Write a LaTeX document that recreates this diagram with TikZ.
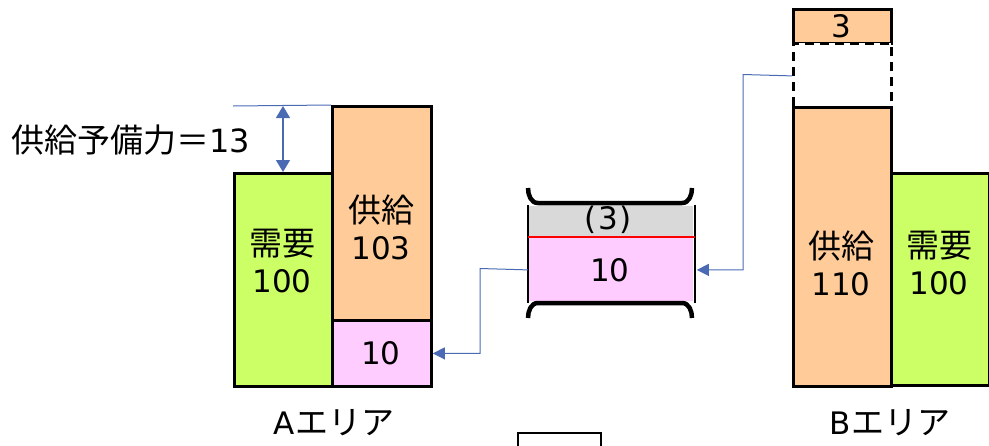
\documentclass[tikz,border=0pt]{standalone}
\usepackage{fontspec}
\setmainfont{Noto Sans CJK JP}
\newfontfamily\latn{DejaVu Sans}
\usetikzlibrary{arrows.meta}
\definecolor{supply}{HTML}{FFCC99}
\definecolor{demand}{HTML}{CCFF66}
\definecolor{flow}{HTML}{FFCCFF}
\definecolor{spare}{HTML}{D9D9D9}
\definecolor{link}{HTML}{4A6BB3}
\begin{document}
\begin{tikzpicture}[x=1pt,y=-1pt,
  box/.style={draw=black,line width=2.8pt,anchor=north west,inner sep=0pt},
  txt/.style={inner sep=0pt,align=center,font=\fontsize{33}{37}\selectfont},
  dig/.style={font=\fontsize{31}{37}\selectfont\latn},
  conn/.style={draw=link,line width=1pt,-{Triangle[length=12pt,width=12pt]}}]
\useasboundingbox (0,0) rectangle (989,445);
% A area
\node[box,fill=demand,minimum width=98pt,minimum height=213pt] (ademand) at (233,172) {};
\node[box,fill=supply,minimum width=99pt,minimum height=214pt] (asupply) at (331,105) {};
\node[box,fill=flow,minimum width=99pt,minimum height=66pt] (aflow) at (331,319) {};
\node[txt] (ademandt) at (282,261) {需要\\{\fontsize{31}{37}\latn 100}};
\node[txt] (asupplyt) at (381,227) {供給\\{\fontsize{31}{37}\latn 103}};
\node[txt,dig] (aflowt) at (381,353) {10};
\node[txt] (alabel) at (334,423) {{\fontsize{31}{37}\latn A}エリア};
% reserve
\coordinate (rl) at (233,106);
\draw[link,line width=1pt] (rl) -- (asupply.north west);
\coordinate (rtop) at (283,106);
\coordinate (rbot) at (283,172);
\draw[link,line width=1.2pt,{Triangle[length=12pt,width=14pt]}-{Triangle[length=12pt,width=14pt]}] (rtop) -- (rbot);
\node[txt,anchor=west] (rlabel) at (11,140) {供給予備力＝{\fontsize{32}{37}\latn 13}};
% interconnector
\node[box,draw=none,fill=spare,minimum width=164pt,minimum height=32pt] (icspare) at (528,205) {};
\node[box,draw=none,fill=flow,minimum width=164pt,minimum height=63pt] (icflow) at (528,237) {};
\node[txt,dig] (icsparet) at (608,220) {(\kern2pt3\kern2pt)};
\node[txt,dig] (icflowt) at (610,270) {10};
\draw[line width=2.2pt] (icspare.north west) -- (icflow.south west);
\draw[line width=2.2pt] (icspare.north east) -- (icflow.south east);
\draw[red,line width=2.4pt] (icflow.north west) -- (icflow.north east);
\draw[line width=4.5pt] (528,188) to[out=-90,in=180] (538,203) -- (682,203) to[out=0,in=-90] (692,188);
\draw[line width=4.5pt] (528,318) to[out=90,in=180] (538,303) -- (682,303) to[out=0,in=90] (692,318);
% B area
\node[box,fill=supply,minimum width=98pt,minimum height=34pt] (bextra) at (792,8) {};
\node[box,fill=white,dash pattern=on 9pt off 6pt,minimum width=98pt,minimum height=65pt] (bgap) at (792,42) {};
\node[box,fill=supply,minimum width=98pt,minimum height=279pt] (bsupply) at (792,106) {};
\node[box,fill=demand,minimum width=98pt,minimum height=212pt] (bdemand) at (890,172) {};
\node[txt,dig] (bextrat) at (841,26) {3};
\node[txt] (bsupplyt) at (841,263) {供給\\{\fontsize{31}{37}\latn 110}};
\node[txt] (bdemandt) at (939,263) {需要\\{\fontsize{31}{37}\latn 100}};
\node[txt] (blabel) at (890,423) {{\fontsize{31}{37}\latn B}エリア};
% connectors
\draw[conn] (icflow.west) -- (480,268.5) |- (aflow.east);
\draw[conn] (bgap.west) -- (743,74.5) |- ([xshift=2pt]icflow.east);
% bottom cut-off box
\draw[line width=2.2pt] (518,447) -- (518,433) -- (601,433) -- (601,447);
\end{tikzpicture}
\end{document}
